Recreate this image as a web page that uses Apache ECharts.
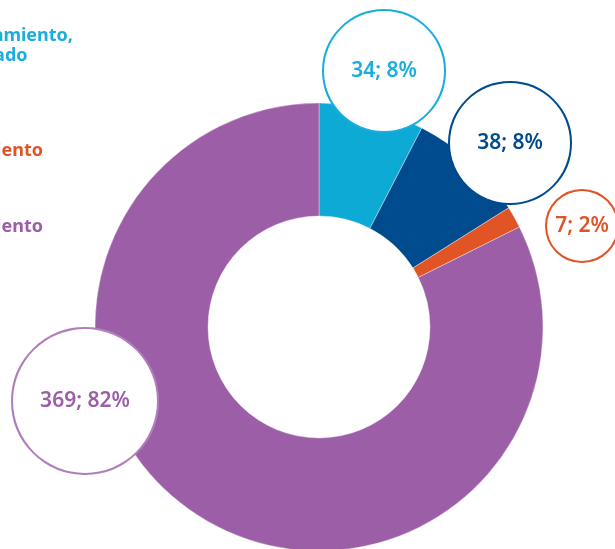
<!DOCTYPE html>
<html>
<head>
<meta charset="utf-8">
<script src="https://cdn.jsdelivr.net/npm/echarts@6/dist/echarts.min.js"></script>
<style>
  html, body { margin: 0; padding: 0; background: #fff; }
  #chart { width: 615px; height: 549px; }
</style>
</head>
<body>
<div id="chart"></div>
<script>
// categories and values (clockwise from 12 o'clock)
const categories = ['Con financiamiento,\nno formalizado', 'Otros', 'Con financiamiento', 'Sin financiamiento']
const values = [34, 38, 7, 369]
const colors = ['#0DAAD6', '#004B8D', '#E05426', '#9B5EA7']
const textColors = ['#1BAEDD', '#004B8D', '#E05426', '#9B5EA7']
const bubbleBorders = ['#1BAEDD', '#004B8D', '#E05426', '#B07FBB']

// bubble label size and where it sits (offset from the pie centre)
const bubbleSize = [124, 124, 74, 148]
const bubbleOffset = [[65, -256], [191, -184], [263, -101], [-234, 74]]

// legend entries that show at the cropped left edge
const legendRows = [
  { idx: 0, top: 21, right: 537 },
  { idx: 2, top: 136, right: 567 },
  { idx: 3, top: 212, right: 567 }
]

const center = [319, 327]

const myChart = echarts.init(document.getElementById('chart'))

const data = values.map((v, i) => ({
  name: categories[i],
  value: v,
  itemStyle: { color: colors[i] },
  label: {
    color: textColors[i],
    borderColor: bubbleBorders[i],
    width: bubbleSize[i] - 4,
    height: bubbleSize[i] - 4,
    lineHeight: bubbleSize[i] - 4,
    borderRadius: bubbleSize[i] / 2
  }
}))

const option = {
  animation: false,
  textStyle: { fontFamily: 'Noto Sans' },
  legend: legendRows.map(r => ({
    right: r.right,
    top: r.top,
    orient: 'vertical',
    icon: 'none',
    itemWidth: 0,
    itemHeight: 0,
    selectedMode: false,
    data: [{
      name: categories[r.idx],
      textStyle: {
        color: textColors[r.idx],
        fontSize: 18,
        fontWeight: 'bold',
        lineHeight: 20
      }
    }]
  })),
  series: [
    {
      type: 'pie',
      center: center,
      radius: [111, 224],
      startAngle: 90,
      clockwise: true,
      percentPrecision: 0,
      avoidLabelOverlap: false,
      silent: true,
      itemStyle: { borderColor: 'rgba(255,255,255,0.6)', borderWidth: 0.6 },
      label: {
        show: true,
        position: 'outside',
        formatter: p => p.value + '; ' + p.percent + '%',
        fontSize: 21,
        fontWeight: 600,
        backgroundColor: '#fff',
        borderWidth: 2,
        padding: 0,
        align: 'center',
        verticalAlign: 'middle'
      },
      labelLine: { show: false },
      labelLayout: params => {
        const off = bubbleOffset[params.dataIndex]
        return {
          x: center[0] + off[0],
          y: center[1] + off[1],
          align: 'center',
          verticalAlign: 'middle'
        }
      },
      data: data
    }
  ]
}

myChart.setOption(option)
</script>
</body>
</html>
